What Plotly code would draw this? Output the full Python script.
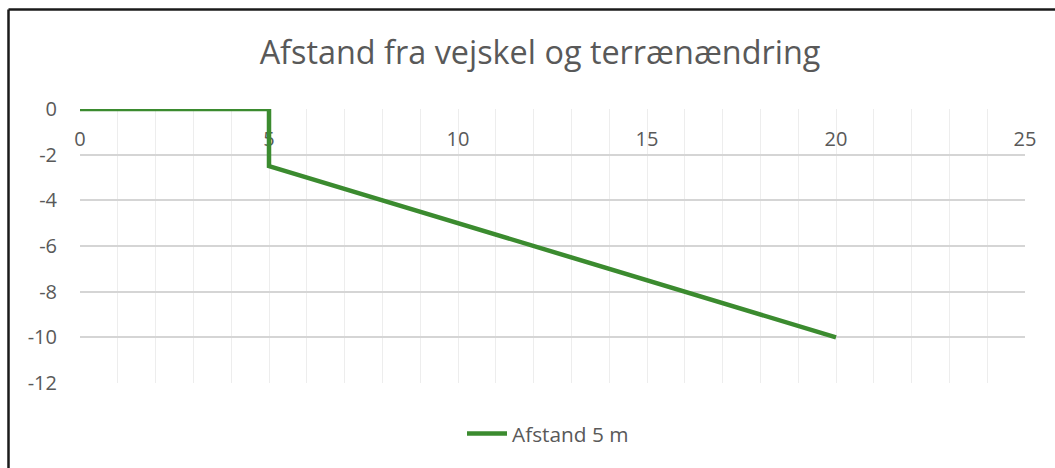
import plotly.graph_objects as go

# Data
x_vals = [0, 5, 5, 20]
y_vals = [0, 0, -2.5, -10]
series_name = "Afstand 5 m"
title_text = "Afstand fra vejskel og terrænændring"
x_ticks = [0, 5, 10, 15, 20, 25]
y_ticks = [0, -2, -4, -6, -8, -10, -12]
y_tick_text = ["0", "-2", "-4", "-6", "-8", "-10", "-12"]

W, H = 1055, 468
L, R, T, B = 80, 30, 109, 85
PW, PH = W - L - R, H - T - B
FONT = "Open Sans"
GREY = "#595959"


def px(xp):
    return (xp - L) / PW


def py(yp):
    return (H - B - yp) / PH


fig = go.Figure()
fig.add_trace(go.Scatter(
    x=x_vals, y=y_vals, mode="lines", name=series_name,
    line=dict(color="#3B8B2F", width=4.5),
    showlegend=True,
))

fig.update_layout(
    width=W, height=H,
    margin=dict(l=L, r=R, t=T, b=B),
    paper_bgcolor="white", plot_bgcolor="white",
    title=dict(text=title_text, x=540 / W, xanchor="center",
               y=1 - 53 / H, yanchor="middle",
               font=dict(family=FONT, size=32.4, color=GREY)),
    font=dict(family=FONT, color=GREY),
    showlegend=True,
    legend=dict(orientation="h", x=px(548), xanchor="center",
                y=py(434), yanchor="middle",
                font=dict(family=FONT, size=20.8, color=GREY),
                itemwidth=40, bgcolor="rgba(0,0,0,0)"),
    xaxis=dict(range=[0, 25], tickvals=x_ticks, showgrid=True,
               gridcolor="#EDEDED", gridwidth=1.2,
               minor=dict(dtick=1, showgrid=True, gridcolor="#EDEDED", gridwidth=1.2),
               zeroline=False, showline=False, ticks="",
               anchor="free", position=1, side="bottom",
               layer="below traces",
               ticklabelstandoff=16,
               tickfont=dict(family=FONT, size=20, color=GREY)),
    yaxis=dict(range=[-12, 0], tickvals=y_ticks, ticktext=y_tick_text,
               showgrid=True,
               gridcolor="#D5D5D5", gridwidth=1.5,
               zeroline=False, showline=False, ticks="",
               ticklabelstandoff=22,
               tickfont=dict(family=FONT, size=20, color=GREY)),
    shapes=[
        dict(type="line", xref="paper", yref="paper",
             x0=px(8.5), x1=px(W + 20),
             y0=py(9.5), y1=py(9.5),
             line=dict(color="#1a1a1a", width=2.5)),
        dict(type="line", xref="paper", yref="paper",
             x0=px(8.5), x1=px(8.5),
             y0=py(9.5), y1=py(H + 20),
             line=dict(color="#1a1a1a", width=2.5)),
    ],
)

fig.write_html("out.html", config={"displayModeBar": False},
               post_script="document.body.style.margin='0';document.body.style.padding='0';")
